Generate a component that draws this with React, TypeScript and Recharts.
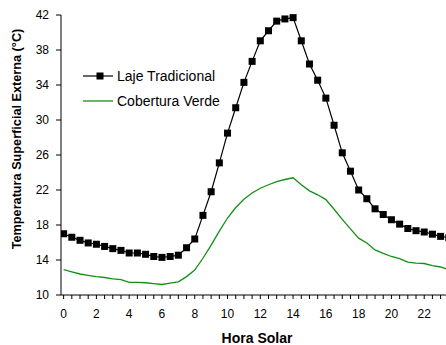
import { LineChart, Line, XAxis, YAxis, Label } from "recharts";

const hours = [
  0, 0.5, 1, 1.5, 2, 2.5, 3, 3.5, 4, 4.5, 5, 5.5, 6, 6.5, 7, 7.5, 8, 8.5, 9, 9.5, 10, 10.5, 11, 11.5,
  12, 12.5, 13, 13.5, 14, 14.5, 15, 15.5, 16, 16.5, 17, 17.5, 18, 18.5, 19, 19.5, 20, 20.5, 21, 21.5,
  22, 22.5, 23, 23.5,
];

const lajeTradicional = [
  17.0, 16.6, 16.25, 15.95, 15.8, 15.55, 15.3, 15.1, 14.8, 14.8, 14.65, 14.4, 14.3, 14.4, 14.55, 15.4,
  16.4, 19.1, 21.8, 25.1, 28.5, 31.4, 34.3, 36.7, 39.05, 40.2, 41.3, 41.55, 41.7, 39.05, 36.4, 34.55,
  32.5, 29.4, 26.25, 24.15, 22.0, 21.0, 19.85, 19.2, 18.6, 18.1, 17.6, 17.35, 17.2, 16.95, 16.7, 16.55,
];

const coberturaVerde = [
  12.9, 12.65, 12.4, 12.25, 12.1, 12.0, 11.85, 11.75, 11.45, 11.45, 11.4, 11.3, 11.2, 11.35, 11.5, 12.1,
  12.85, 14.2, 15.7, 17.3, 18.8, 20.0, 20.95, 21.65, 22.2, 22.6, 22.95, 23.2, 23.4, 22.6, 21.9, 21.45,
  20.9, 19.8, 18.65, 17.55, 16.5, 15.95, 15.15, 14.75, 14.4, 14.15, 13.75, 13.65, 13.6, 13.35, 13.2, 12.9,
];

// tick marks every half hour, labels every 2 h (0..22)
const xTicks = [
  0, 0.5, 1, 1.5, 2, 2.5, 3, 3.5, 4, 4.5, 5, 5.5, 6, 6.5, 7, 7.5, 8, 8.5, 9, 9.5, 10, 10.5, 11, 11.5,
  12, 12.5, 13, 13.5, 14, 14.5, 15, 15.5, 16, 16.5, 17, 17.5, 18, 18.5, 19, 19.5, 20, 20.5, 21, 21.5,
  22, 22.5, 23, 23.5, 24,
];
const xLabels = [0, 2, 4, 6, 8, 10, 12, 14, 16, 18, 20, 22];
const yTicks = [10, 14, 18, 22, 26, 30, 34, 38, 42];

const seriesNames = ["Laje Tradicional", "Cobertura Verde"];
const GREEN = "#139013";
const FONT = "Arial, 'Liberation Sans', sans-serif";

const data = hours.map((h, i) => ({ hora: h, laje: lajeTradicional[i], verde: coberturaVerde[i] }));

function SquareDot(props: any) {
  const { cx, cy, index } = props;
  if (cx == null || cy == null) return null;
  return <rect key={`sq-${index}`} x={cx - 3.5} y={cy - 3.5} width={7} height={7} fill="#000" />;
}

export default function App() {
  return (
    <div style={{ position: "absolute", left: 0, top: 0, width: 446, height: 345, overflow: "hidden", background: "#fff" }}>
      <LineChart width={470} height={345} data={data} margin={{ top: 15, right: 13, left: 0, bottom: 0 }}>
        <XAxis
          dataKey="hora"
          type="number"
          domain={[-0.16, 24]}
          allowDataOverflow
          ticks={xTicks}
          interval={0}
          tickFormatter={(v: number) => (xLabels.includes(v) ? String(v) : "")}
          tick={{ fontSize: 12, fill: "#000", fontFamily: FONT }}
          tickSize={4}
          tickMargin={10}
          height={50}
          stroke="#000"
        >
          <Label
            content={() => (
              <text x={257} y={343} textAnchor="middle" fontSize={14} fontWeight="bold" fontFamily={FONT} fill="#000">
                Hora Solar
              </text>
            )}
          />
        </XAxis>
        <YAxis
          type="number"
          domain={[10, 42]}
          ticks={yTicks}
          interval={0}
          tick={{ fontSize: 12, fill: "#000", fontFamily: FONT }}
          tickSize={5}
          tickMargin={7}
          width={61}
          stroke="#000"
        >
          <Label
            content={() => (
              <text
                x={21}
                y={139}
                transform="rotate(-90, 21, 139)"
                textAnchor="middle"
                fontSize={12.7}
                fontWeight="bold"
                fontFamily={FONT}
                fill="#000"
              >
                Temperatura Superficial Externa (°C)
              </text>
            )}
          />
        </YAxis>
        <Line
          dataKey="verde"
          name={seriesNames[1]}
          stroke={GREEN}
          strokeWidth={1.3}
          dot={false}
          isAnimationActive={false}
        />
        <Line
          dataKey="laje"
          name={seriesNames[0]}
          stroke="#000"
          strokeWidth={1.2}
          dot={<SquareDot />}
          activeDot={false}
          isAnimationActive={false}
        />
      </LineChart>
      <div style={{ position: "absolute", left: 83, top: 65, fontFamily: FONT, fontSize: 14, color: "#000" }}>
        <div style={{ display: "flex", alignItems: "center", height: 22, marginBottom: 3 }}>
          <svg width={30} height={10} style={{ marginRight: 4 }}>
            <line x1={0} y1={5} x2={30} y2={5} stroke="#000" strokeWidth={1.2} />
            <rect x={13.5} y={1.5} width={7} height={7} fill="#000" />
          </svg>
          <span>{seriesNames[0]}</span>
        </div>
        <div style={{ display: "flex", alignItems: "center", height: 22 }}>
          <svg width={30} height={10} style={{ marginRight: 4 }}>
            <line x1={0} y1={5} x2={30} y2={5} stroke={GREEN} strokeWidth={1.3} />
          </svg>
          <span>{seriesNames[1]}</span>
        </div>
      </div>
    </div>
  );
}
